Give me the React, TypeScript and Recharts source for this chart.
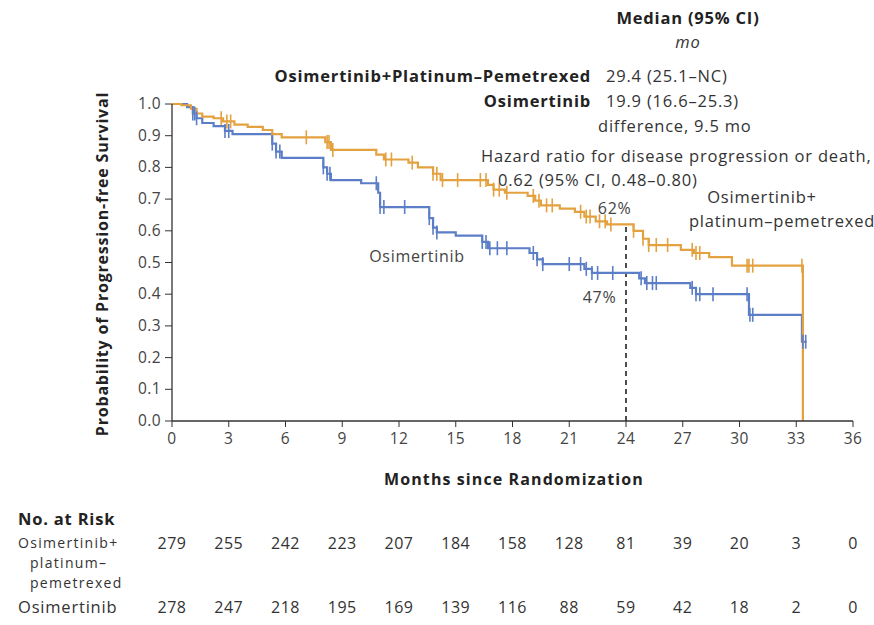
import { ComposedChart, Line, XAxis, YAxis, Scatter, ReferenceLine, ReferenceDot } from 'recharts';

const MONTH_TICKS = [0, 3, 6, 9, 12, 15, 18, 21, 24, 27, 30, 33, 36];
const SURV_TICKS = [0, 0.1, 0.2, 0.3, 0.4, 0.5, 0.6, 0.7, 0.8, 0.9, 1.0];

// Osimertinib + platinum-pemetrexed (step points: month, probability)
const COMBO_TIME = [0, 0.5, 1.0, 1.3, 1.6, 2.2, 2.7, 3.3, 4.0, 4.8, 5.3, 5.8, 8.1, 8.4, 10.8, 11.2, 12.5, 13.0, 13.8, 14.2, 16.7, 17.0, 17.6, 18.8, 19.2, 19.5, 20.5, 21.3, 21.8, 22.4, 23.0, 24.4, 24.9, 25.2, 26.9, 27.6, 28.4, 29.6, 33.35];
const COMBO_SURV = [1.0, 0.996, 0.985, 0.97, 0.96, 0.955, 0.945, 0.935, 0.928, 0.918, 0.905, 0.895, 0.88, 0.855, 0.84, 0.825, 0.815, 0.8, 0.78, 0.76, 0.745, 0.73, 0.72, 0.71, 0.695, 0.68, 0.67, 0.66, 0.645, 0.63, 0.62, 0.6, 0.575, 0.555, 0.54, 0.53, 0.517, 0.49, 0.0];
const COMBO_CENSOR = [2.6, 2.9, 3.1, 7.1, 8.2, 8.3, 8.5, 11.3, 11.6, 12.7, 13.8, 14.0, 14.3, 15.1, 16.3, 16.6, 17.0, 17.3, 17.7, 19.1, 19.4, 19.8, 20.1, 21.6, 21.9, 22.1, 22.6, 22.9, 23.2, 24.4, 24.9, 25.2, 25.6, 26.2, 27.5, 27.7, 27.9, 30.4, 30.5, 30.7, 33.3];

// Osimertinib alone
const OSI_TIME = [0, 0.8, 1.1, 1.3, 1.6, 2.2, 2.8, 3.2, 5.3, 5.5, 5.8, 8.0, 8.2, 8.4, 10.0, 10.9, 11.0, 13.6, 13.8, 14.0, 15.0, 16.4, 16.7, 18.9, 19.3, 19.6, 21.8, 22.2, 24.7, 25.0, 27.4, 27.7, 30.5, 33.3, 33.55];
const OSI_SURV = [1.0, 0.99, 0.97, 0.955, 0.94, 0.93, 0.915, 0.905, 0.875, 0.85, 0.83, 0.8, 0.78, 0.76, 0.75, 0.72, 0.675, 0.64, 0.61, 0.595, 0.585, 0.565, 0.545, 0.53, 0.51, 0.495, 0.48, 0.467, 0.45, 0.435, 0.42, 0.4, 0.335, 0.25, 0.25];
const OSI_CENSOR = [1.1, 1.2, 1.3, 2.8, 3.0, 5.3, 5.5, 5.7, 8.0, 8.2, 8.35, 10.8, 11.0, 11.2, 12.3, 13.6, 13.8, 14.0, 16.4, 16.6, 16.8, 17.2, 17.7, 19.1, 19.3, 19.6, 21.0, 21.6, 21.9, 22.2, 22.5, 23.3, 24.8, 25.1, 25.4, 25.6, 27.5, 27.7, 27.9, 28.6, 30.4, 30.55, 30.7, 33.35, 33.5];

const RISK_COMBO = [279, 255, 242, 223, 207, 184, 158, 128, 81, 39, 20, 3, 0];
const RISK_OSI = [278, 247, 218, 195, 169, 139, 116, 88, 59, 42, 18, 2, 0];

const ORANGE = '#E3A13F';
const BLUE = '#5B7EC6';
const FONT = '"Open Sans", sans-serif';

const toPoints = (t: number[], s: number[]) => t.map((m, i) => ({ m, p: s[i] }));
const survAt = (t: number[], s: number[], m: number) => {
  let v = s[0];
  for (let i = 0; i < t.length; i++) if (t[i] <= m) v = s[i];
  return v;
};
const censorPoints = (c: number[], t: number[], s: number[]) => c.map((m) => ({ m, p: survAt(t, s, m) }));

const censorMark = (color: string) => (props: any) => {
  const { cx, cy } = props;
  return <line x1={cx} x2={cx} y1={cy - 7} y2={cy + 7} stroke={color} strokeWidth={1.6} />;
};

const XTick = (props: any) => (
  <text x={props.x} y={props.y} dy={15} textAnchor="middle" fontSize={15.5} fill="#444" fontFamily={FONT} style={{ letterSpacing: '0.4px' }}>
    {props.payload.value}
  </text>
);
const YTick = (props: any) => (
  <text x={props.x - 2} y={props.y} dy={5} textAnchor="end" fontSize={15.5} fill="#444" fontFamily={FONT} style={{ letterSpacing: '0.4px' }}>
    {Number(props.payload.value).toFixed(1)}
  </text>
);

const label = (value: string) => ({ value, fontSize: 16, fill: '#444', fontFamily: FONT, style: { letterSpacing: '0.7px' } });

const PLOT_LEFT = 172;
const PLOT_RIGHT = 853;

const txt: React.CSSProperties = { position: 'absolute', whiteSpace: 'nowrap', fontFamily: FONT, color: '#333', fontSize: 16.5, lineHeight: '16px', letterSpacing: '0.8px' };
const bold: React.CSSProperties = { fontWeight: 700, color: '#222' };
const rowName: React.CSSProperties = { ...txt, fontSize: 14, lineHeight: '16px', letterSpacing: '1.3px' };

export default function App() {
  const colX = (i: number) => PLOT_LEFT + (i * (PLOT_RIGHT - PLOT_LEFT)) / (MONTH_TICKS.length - 1);
  return (
    <div style={{ position: 'absolute', left: 0, top: 0, width: 874, height: 625, background: '#fff', fontFamily: FONT }}>
      <ComposedChart width={874} height={460} margin={{ top: 104, right: 21, bottom: 9, left: 132 }}>
        <XAxis
          type="number"
          dataKey="m"
          domain={[0, 36]}
          ticks={MONTH_TICKS}
          allowDuplicatedCategory={false}
          height={30}
          tick={<XTick />}
          axisLine={{ stroke: '#333', strokeWidth: 1.3 }}
          tickLine={{ stroke: '#333' }}
          tickSize={6}
        />
        <YAxis
          type="number"
          dataKey="p"
          domain={[0, 1]}
          ticks={SURV_TICKS}
          width={40}
          tick={<YTick />}
          axisLine={{ stroke: '#333', strokeWidth: 1.3 }}
          tickLine={{ stroke: '#333' }}
          tickSize={7}
        />
        <ReferenceLine segment={[{ x: 24, y: 0 }, { x: 24, y: 0.62 }]} stroke="#222" strokeWidth={1.6} strokeDasharray="5 4" />
        <Line data={toPoints(OSI_TIME, OSI_SURV)} dataKey="p" type="stepAfter" stroke={BLUE} strokeWidth={2.2} dot={false} isAnimationActive={false} />
        <Line data={toPoints(COMBO_TIME, COMBO_SURV)} dataKey="p" type="stepAfter" stroke={ORANGE} strokeWidth={2.2} dot={false} isAnimationActive={false} />
        <Scatter data={censorPoints(OSI_CENSOR, OSI_TIME, OSI_SURV)} dataKey="p" shape={censorMark(BLUE)} isAnimationActive={false} />
        <Scatter data={censorPoints(COMBO_CENSOR, COMBO_TIME, COMBO_SURV)} dataKey="p" shape={censorMark(ORANGE)} isAnimationActive={false} />
        <ReferenceDot x={23.4} y={0.67} r={0} label={label('62%')} />
        <ReferenceDot x={22.6} y={0.39} r={0} label={label('47%')} />
        <ReferenceDot x={12.95} y={0.52} r={0} label={label('Osimertinib')} />
      </ComposedChart>

      <div style={{ ...txt, left: 762, top: 189, transform: 'translateX(-50%)' }}>Osimertinib+</div>
      <div style={{ ...txt, left: 782, top: 213, transform: 'translateX(-50%)' }}>platinum–pemetrexed</div>

      <div style={{ ...txt, ...bold, left: 688, top: 10, transform: 'translateX(-50%)' }}>Median (95% CI)</div>
      <div style={{ ...txt, left: 688, top: 34, transform: 'translateX(-50%)', fontStyle: 'italic' }}>mo</div>
      <div style={{ ...txt, ...bold, right: 874 - 591, top: 68 }}>Osimertinib+Platinum–Pemetrexed</div>
      <div style={{ ...txt, left: 606, top: 68 }}>29.4 (25.1–NC)</div>
      <div style={{ ...txt, ...bold, right: 874 - 591, top: 93 }}>Osimertinib</div>
      <div style={{ ...txt, left: 606, top: 93 }}>19.9 (16.6–25.3)</div>
      <div style={{ ...txt, left: 598, top: 118 }}>difference, 9.5 mo</div>
      <div style={{ ...txt, left: 481, top: 148 }}>Hazard ratio for disease progression or death,</div>
      <div style={{ ...txt, left: 498, top: 172 }}>0.62 (95% CI, 0.48–0.80)</div>

      <div style={{ ...txt, ...bold, left: 102, top: 264, fontSize: 16, transform: 'translate(-50%, -50%) rotate(-90deg)' }}>
        Probability of Progression-free Survival
      </div>
      <div style={{ ...txt, ...bold, left: 514, top: 471, fontSize: 16, letterSpacing: '1.1px', transform: 'translateX(-50%)' }}>Months since Randomization</div>

      <div style={{ ...txt, ...bold, left: 18, top: 511 }}>No. at Risk</div>
      <div style={{ ...rowName, left: 18, top: 535 }}>Osimertinib+</div>
      <div style={{ ...rowName, left: 30, top: 555 }}>platinum–</div>
      <div style={{ ...rowName, left: 30, top: 575 }}>pemetrexed</div>
      <div style={{ ...txt, left: 18, top: 599 }}>Osimertinib</div>
      {RISK_COMBO.map((n, i) => (
        <div key={'c' + i} style={{ ...txt, fontSize: 16, letterSpacing: '0.5px', left: colX(i), top: 535, transform: 'translateX(-50%)' }}>{n}</div>
      ))}
      {RISK_OSI.map((n, i) => (
        <div key={'o' + i} style={{ ...txt, fontSize: 16, letterSpacing: '0.5px', left: colX(i), top: 599, transform: 'translateX(-50%)' }}>{n}</div>
      ))}
    </div>
  );
}
